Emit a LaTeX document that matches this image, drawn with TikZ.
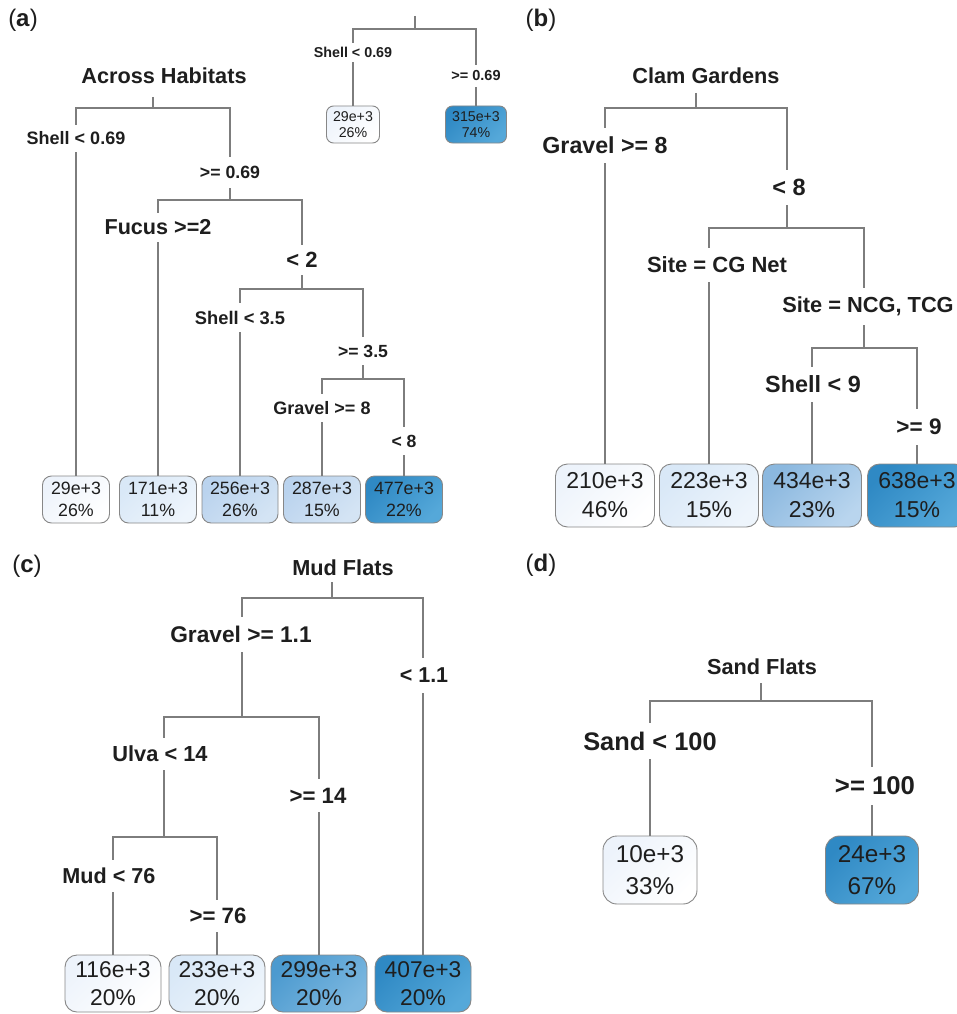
\documentclass[tikz,border=0pt]{standalone}
\usepackage{fontspec}
\setmainfont{Liberation Sans}
\definecolor{lineC}{RGB}{125,125,125}
\definecolor{boxC}{RGB}{135,135,135}
\definecolor{txtC}{RGB}{30,30,30}
\definecolor{w0a}{HTML}{EDF3FB}\definecolor{w0b}{HTML}{FFFFFF}
\definecolor{w1a}{HTML}{D9E8F7}\definecolor{w1b}{HTML}{EEF5FC}
\definecolor{w2a}{HTML}{BAD3EE}\definecolor{w2b}{HTML}{D4E4F4}
\definecolor{w3a}{HTML}{8BB8DF}\definecolor{w3b}{HTML}{B9D5EE}
\definecolor{w4a}{HTML}{4C9ACF}\definecolor{w4b}{HTML}{7DB8E0}
\definecolor{w5a}{HTML}{2F89C4}\definecolor{w5b}{HTML}{55A8D9}
\tikzset{
  edge/.style={draw=lineC, line width=1.1pt},
  lbl/.style 2 args={font=\fontsize{#1}{#1}\selectfont\bfseries, inner sep=0pt, minimum height=#2pt, text=txtC},
  ttl/.style={font=\fontsize{21.7}{22}\selectfont\bfseries, inner sep=0pt, text=txtC},
  plabel/.style={font=\fontsize{24}{24}\selectfont, inner sep=0pt, text=txtC},
  leaf/.style n args={4}{rectangle, draw=boxC, line width=0.9pt, minimum width=#1pt, minimum height=#2pt, inner sep=0pt, align=center, font=\fontsize{#3}{#4}\selectfont, text=txtC},
  c0/.style={top color=w0a, bottom color=w0b, shading angle=45},
  c1/.style={top color=w1a, bottom color=w1b, shading angle=45},
  c2/.style={top color=w2a, bottom color=w2b, shading angle=45},
  c3/.style={top color=w3a, bottom color=w3b, shading angle=45},
  c4/.style={top color=w4a, bottom color=w4b, shading angle=45},
  c5/.style={top color=w5a, bottom color=w5b, shading angle=45},
}
\begin{document}
\begin{tikzpicture}[x=1pt,y=-1pt]
\useasboundingbox (0,0) rectangle (957,1014);

% panel labels
\node[plabel] (pa) at (23,20) {(\textbf{a})};
\node[plabel] (pb) at (541,20) {(\textbf{b})};
\node[plabel] (pc) at (27,566) {(\textbf{c})};
\node[plabel] (pd) at (541,565) {(\textbf{d})};

% ---------- (a) small tree ----------
\coordinate (s0) at (415,16);
\coordinate (sJ0) at (415,29);
\node[lbl={14.3}{19}] (sL1) at (353,52.5) {Shell < 0.69};
\node[lbl={14.5}{22}] (sR1) at (476,76) {>= 0.69};
\node[leaf={53}{37}{14.2}{16.7}, rounded corners=7pt, c0] (sA) at (353,124.5) {29e+3\\26\%};
\node[leaf={61}{37}{14.2}{16.7}, rounded corners=7pt, c5] (sB) at (476,124.5) {315e+3\\74\%};
\draw[edge] (s0) -- (sJ0);
\draw[edge] (sA |- sL1.north) -- (sA |- sJ0) -- (sB |- sJ0) -- (sB |- sR1.north);
\draw[edge] (sA |- sL1.south) -- (sA.north);
\draw[edge] (sB |- sR1.south) -- (sB.north);

% ---------- (a) Across Habitats ----------
\node[ttl] (aT) at (164,76) {Across Habitats};
\coordinate (aS) at (153,97);
\coordinate (aJ0) at (153,108);
\node[lbl={18}{27}] (aL1) at (76,138.5) {Shell < 0.69};
\node[lbl={17.7}{31}] (aR1) at (230,172.5) {>= 0.69};
\coordinate (aJ1) at (230,200);
\node[lbl={21.6}{29}] (aL2) at (158,227.5) {Fucus >=2};
\node[lbl={22}{30}] (aR2) at (302,260) {< 2};
\coordinate (aJ2) at (302,289);
\node[lbl={18.3}{29}] (aL3) at (240,317.5) {Shell < 3.5};
\node[lbl={17.6}{28}] (aR3) at (363,351) {>= 3.5};
\coordinate (aJ3) at (363,379);
\node[lbl={18}{28}] (aL4) at (322,408) {Gravel >= 8};
\node[lbl={17.6}{28}] (aR4) at (404,441) {< 8};
\node[leaf={67}{47}{17.8}{22}, rounded corners=9pt, c0] (aA) at (76,499.5) {29e+3\\26\%};
\node[leaf={77}{47}{17.8}{22}, rounded corners=9pt, c1] (aB) at (158,499.5) {171e+3\\11\%};
\node[leaf={76}{47}{17.8}{22}, rounded corners=9pt, c2] (aC) at (240,499.5) {256e+3\\26\%};
\node[leaf={77}{47}{17.8}{22}, rounded corners=9pt, c2] (aD) at (322,499.5) {287e+3\\15\%};
\node[leaf={77}{47}{17.8}{22}, rounded corners=9pt, c5] (aE) at (404,499.5) {477e+3\\22\%};
\draw[edge] (aS) -- (aJ0);
\draw[edge] (aA |- aL1.north) -- (aA |- aJ0) -- (aJ1 |- aJ0) -- (aJ1 |- aR1.north);
\draw[edge] (aA |- aL1.south) -- (aA.north);
\draw[edge] (aJ1 |- aR1.south) -- (aJ1);
\draw[edge] (aB |- aL2.north) -- (aB |- aJ1) -- (aJ2 |- aJ1) -- (aJ2 |- aR2.north);
\draw[edge] (aB |- aL2.south) -- (aB.north);
\draw[edge] (aJ2 |- aR2.south) -- (aJ2);
\draw[edge] (aC |- aL3.north) -- (aC |- aJ2) -- (aJ3 |- aJ2) -- (aJ3 |- aR3.north);
\draw[edge] (aC |- aL3.south) -- (aC.north);
\draw[edge] (aJ3 |- aR3.south) -- (aJ3);
\draw[edge] (aD |- aL4.north) -- (aD |- aJ3) -- (aE |- aJ3) -- (aE |- aR4.north);
\draw[edge] (aD |- aL4.south) -- (aD.north);
\draw[edge] (aE |- aR4.south) -- (aE.north);

% ---------- (b) Clam Gardens ----------
\node[ttl] (bT) at (706,76) {Clam Gardens};
\coordinate (bS) at (696,93);
\coordinate (bJ0) at (696,108);
\node[lbl={23.2}{35}] (bL1) at (605,145.5) {Gravel >= 8};
\node[lbl={23.5}{35}] (bR1) at (789,187.5) {< 8};
\coordinate (bJ1) at (787,228);
\node[lbl={22}{34}] (bL2) at (717,265) {Site = CG Net};
\node[lbl={21.8}{37}] (bR2) at (868,306.5) {Site = NCG, TCG};
\coordinate (bJ2) at (864,348);
\node[lbl={23.4}{35}] (bL3) at (813,384.5) {Shell < 9};
\node[lbl={22.5}{36}] (bR3) at (919,427) {>= 9};
\node[leaf={99}{63}{23}{29}, rounded corners=12pt, c0] (bA) at (605,495.5) {210e+3\\46\%};
\node[leaf={99}{63}{23}{29}, rounded corners=12pt, c1] (bB) at (709,495.5) {223e+3\\15\%};
\node[leaf={99}{63}{23}{29}, rounded corners=12pt, c3] (bC) at (812,495.5) {434e+3\\23\%};
\node[leaf={99}{63}{23}{29}, rounded corners=12pt, c5] (bD) at (917,495.5) {638e+3\\15\%};
\draw[edge] (bS) -- (bJ0);
\draw[edge] (bA |- bL1.north) -- (bA |- bJ0) -- (bJ1 |- bJ0) -- (bJ1 |- bR1.north);
\draw[edge] (bA |- bL1.south) -- (bA.north);
\draw[edge] (bJ1 |- bR1.south) -- (bJ1);
\draw[edge] (bB |- bL2.north) -- (bB |- bJ1) -- (bJ2 |- bJ1) -- (bJ2 |- bR2.north);
\draw[edge] (bB |- bL2.south) -- (bB.north);
\draw[edge] (bJ2 |- bR2.south) -- (bJ2);
\draw[edge] (bC |- bL3.north) -- (bC |- bJ2) -- (bD |- bJ2) -- (bD |- bR3.north);
\draw[edge] (bC |- bL3.south) -- (bC.north);
\draw[edge] (bD |- bR3.south) -- (bD.north);

% ---------- (c) Mud Flats ----------
\node[ttl] (cT) at (343,568) {Mud Flats};
\coordinate (cS) at (332,582);
\coordinate (cJ0) at (332,598);
\node[lbl={22.7}{35}] (cL1) at (241,634.5) {Gravel >= 1.1};
\node[lbl={21.5}{35}] (cR1) at (424,675.5) {< 1.1};
\coordinate (cJ1) at (242,717);
\node[lbl={21.8}{32}] (cL2) at (160,754) {Ulva < 14};
\node[lbl={22.2}{33}] (cR2) at (318,795.5) {>= 14};
\coordinate (cJ2) at (164,837);
\node[lbl={21.6}{32}] (cL3) at (109,876) {Mud < 76};
\node[lbl={22.2}{32}] (cR3) at (218,916) {>= 76};
\node[leaf={96}{57}{22.8}{28}, rounded corners=12pt, c0] (cA) at (113,983.5) {116e+3\\20\%};
\node[leaf={96}{57}{22.8}{28}, rounded corners=12pt, c1] (cB) at (217,983.5) {233e+3\\20\%};
\node[leaf={96}{57}{22.8}{28}, rounded corners=12pt, c4] (cC) at (319,983.5) {299e+3\\20\%};
\node[leaf={96}{57}{22.8}{28}, rounded corners=12pt, c5] (cD) at (423,983.5) {407e+3\\20\%};
\draw[edge] (cS) -- (cJ0);
\draw[edge] (cJ1 |- cL1.north) -- (cJ1 |- cJ0) -- (cD |- cJ0) -- (cD |- cR1.north);
\draw[edge] (cJ1 |- cL1.south) -- (cJ1);
\draw[edge] (cD |- cR1.south) -- (cD.north);
\draw[edge] (cJ2 |- cL2.north) -- (cJ2 |- cJ1) -- (cC |- cJ1) -- (cC |- cR2.north);
\draw[edge] (cJ2 |- cL2.south) -- (cJ2);
\draw[edge] (cC |- cR2.south) -- (cC.north);
\draw[edge] (cA |- cL3.north) -- (cA |- cJ2) -- (cB |- cJ2) -- (cB |- cR3.north);
\draw[edge] (cA |- cL3.south) -- (cA.north);
\draw[edge] (cB |- cR3.south) -- (cB.north);

% ---------- (d) Sand Flats ----------
\node[ttl] (dT) at (762,667) {Sand Flats};
\coordinate (dS) at (761,683);
\coordinate (dJ0) at (761,701);
\node[lbl={25.4}{36}] (dL1) at (650,741) {Sand < 100};
\node[lbl={25.7}{38}] (dR1) at (875,786) {>= 100};
\node[leaf={94}{68}{24.3}{32}, rounded corners=14pt, c0] (dA) at (650,870) {10e+3\\33\%};
\node[leaf={93}{68}{24.3}{32}, rounded corners=14pt, c5] (dB) at (872,870) {24e+3\\67\%};
\draw[edge] (dS) -- (dJ0);
\draw[edge] (dA |- dL1.north) -- (dA |- dJ0) -- (dB |- dJ0) -- (dB |- dR1.north);
\draw[edge] (dA |- dL1.south) -- (dA.north);
\draw[edge] (dB |- dR1.south) -- (dB.north);
\end{tikzpicture}
\end{document}
